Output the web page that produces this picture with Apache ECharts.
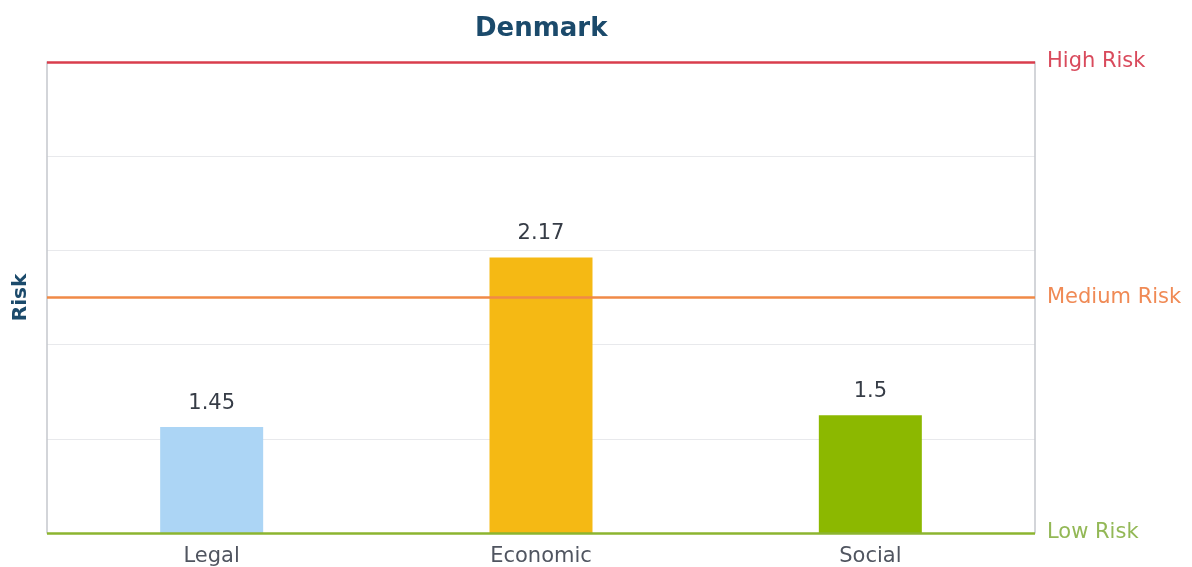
<!DOCTYPE html>
<html>
<head>
<meta charset="utf-8">
<title>Denmark</title>
<script src="https://cdn.jsdelivr.net/npm/echarts@6/dist/echarts.min.js"></script>
<style>
  html, body { margin: 0; padding: 0; background: #ffffff; }
  #chart { width: 1192px; height: 567px; }
</style>
</head>
<body>
<div id="chart"></div>
<script>
// Risk categories and their scores (scale 1 = low, 3 = high)
const categories = ['Legal', 'Economic', 'Social'];
const riskValues = [1.45, 2.17, 1.5];
const barColors = ['#acd5f5', '#f5b914', '#8cb800'];

// Reference levels drawn as horizontal lines
const levelNames = ['Low Risk', 'Medium Risk', 'High Risk'];
const levelValues = [1, 2, 3];
const levelColors = ['#8cb52f', '#f08a47', '#d93d4c'];
const levelTextColors = ['#93b856', '#f08a55', '#d94a5c'];

const FONT = '"DejaVu Sans", Verdana, sans-serif';

const chart = echarts.init(document.getElementById('chart'), null, { renderer: 'canvas' });

const markLineData = levelValues.map((v, i) => ({
  yAxis: v,
  name: levelNames[i],
  lineStyle: { color: levelColors[i], width: 2.5, type: 'solid' },
  label: {
    show: true,
    position: 'end',
    formatter: levelNames[i],
    color: levelTextColors[i],
    fontSize: 21,
    fontFamily: FONT,
    distance: 12,
    padding: [6, 0, 0, 0]
  }
}));

chart.setOption({
  backgroundColor: '#ffffff',
  animation: false,
  title: {
    text: 'Denmark',
    left: 470,
    top: 11,
    textStyle: { color: '#1b4a6b', fontSize: 26, fontWeight: 'bold', fontFamily: FONT }
  },
  grid: { left: 47, right: 157, top: 62, bottom: 33, containLabel: false },
  xAxis: {
    type: 'category',
    data: categories,
    axisLine: { show: false },
    axisTick: { show: false },
    axisLabel: { color: '#505560', fontSize: 21, fontFamily: FONT, margin: 13 },
    splitLine: { show: false }
  },
  yAxis: [
    {
      type: 'value',
      min: 1,
      max: 3,
      interval: 0.5,
      position: 'left',
      name: 'Risk',
      nameLocation: 'middle',
      nameGap: 16,
      nameRotate: 90,
      nameTextStyle: { color: '#1b4a6b', fontSize: 20, fontWeight: 'bold', fontFamily: FONT },
      axisLine: { show: true, lineStyle: { color: '#c4c7cc', width: 1.5 } },
      axisTick: { show: false },
      axisLabel: { show: false },
      splitLine: { show: false }
    },
    {
      // grid frame on the right and the horizontal guide lines
      type: 'value',
      min: 0,
      max: 5,
      interval: 1,
      position: 'right',
      axisLine: { show: true, lineStyle: { color: '#c4c7cc', width: 1.5 } },
      axisTick: { show: false },
      axisLabel: { show: false },
      splitLine: { show: true, lineStyle: { color: '#e8e9ec', width: 1 } }
    }
  ],
  series: [
    {
      type: 'bar',
      yAxisIndex: 0,
      barWidth: 103,
      data: riskValues.map((v, i) => ({ value: v, itemStyle: { color: barColors[i] } })),
      label: {
        show: true,
        position: 'top',
        distance: 13,
        color: '#363c46',
        fontSize: 21,
        fontFamily: FONT
      },
      markLine: {
        silent: true,
        symbol: ['none', 'none'],
        data: markLineData
      }
    }
  ]
});
</script>
</body>
</html>
